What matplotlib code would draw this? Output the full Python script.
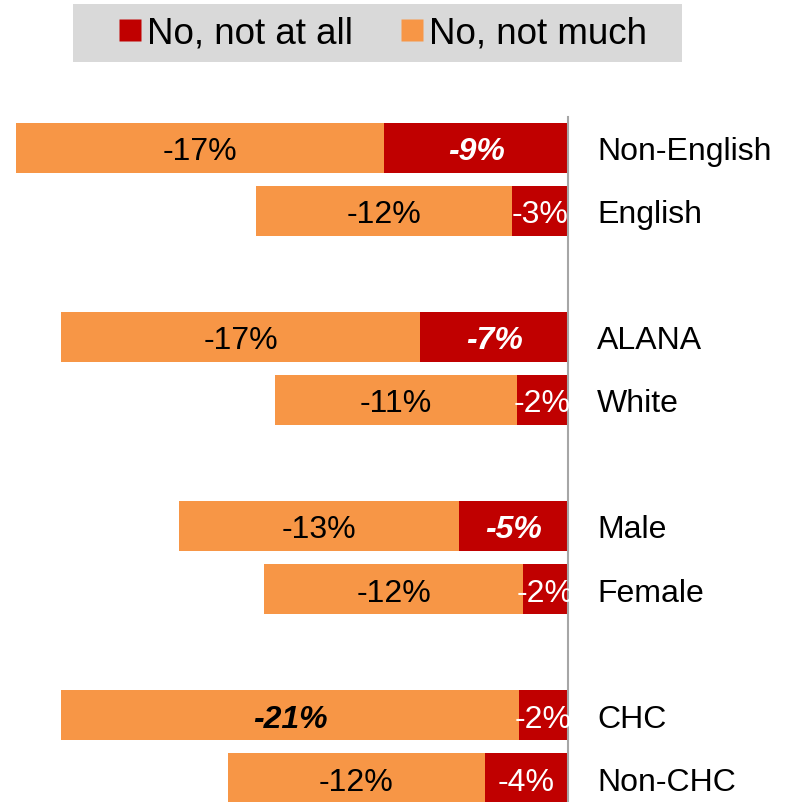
import matplotlib
matplotlib.use('Agg')
import matplotlib.pyplot as plt
from matplotlib.lines import Line2D
from matplotlib.patches import Rectangle

plt.rcParams['font.family'] = ['Liberation Sans', 'DejaVu Sans']

categories = ["Non-English", "English", "ALANA", "White", "Male", "Female", "CHC", "Non-CHC"]
not_at_all = [-8.6, -2.6, -6.9, -2.4, -5.1, -2.1, -2.3, -3.9]
not_much = [-17.2, -12.0, -16.8, -11.3, -13.1, -12.1, -21.4, -12.0]
emph_at_all = [True, False, True, False, True, False, False, False]
emph_much = [False, False, False, False, False, False, True, False]
series_names = ["No, not at all", "No, not much"]

positions = [0, 1, 3, 4, 6, 7, 9, 10]
RED = '#C00000'
ORANGE = '#F79646'

W, H = 788, 803
fig = plt.figure(figsize=(W / 100, H / 100), dpi=100)
ax = fig.add_axes([0, 0, 568 / W, (H - 118) / H])

ax.barh(positions, not_at_all, height=0.79, color=RED)
ax.barh(positions, not_much, left=not_at_all, height=0.79, color=ORANGE)

for p, a, m, ea, em in zip(positions, not_at_all, not_much, emph_at_all, emph_much):
    kw_a = dict(fontweight='bold', fontstyle='italic') if ea else {}
    kw_m = dict(fontweight='bold', fontstyle='italic') if em else {}
    ax.text(a / 2, p, f"{a:.0f}%", ha='center', va='center_baseline', color='white',
            fontsize=23, **kw_a)
    ax.text(a + m / 2, p, f"{m:.0f}%", ha='center', va='center_baseline', color='black',
            fontsize=23, **kw_m)

ax.set_xlim(-26.57, 0)
ax.set_ylim(10.38, -0.49)
ax.set_xticks([])
ax.yaxis.tick_right()
ax.set_yticks(positions)
ax.set_yticklabels(categories, fontsize=23)
ax.tick_params(axis='y', length=0, pad=21)
for s in ['left', 'top', 'bottom']:
    ax.spines[s].set_visible(False)
ax.spines['right'].set_color('#A6A6A6')
ax.spines['right'].set_linewidth(1.5)

# legend box
fig.patches.append(Rectangle((73 / W, 1 - 63 / H), (682 - 73) / W, 58 / H,
                             transform=fig.transFigure, facecolor='#D9D9D9',
                             edgecolor='none', zorder=0))
handles = [Line2D([], [], marker='s', linestyle='none', markersize=16,
                  markerfacecolor=RED, markeredgecolor='none'),
           Line2D([], [], marker='s', linestyle='none', markersize=16,
                  markerfacecolor=ORANGE, markeredgecolor='none')]
fig.legend(handles, series_names, loc='center', bbox_to_anchor=(383 / W, 1 - 34 / H),
           frameon=False, ncol=2, fontsize=26.5, handlelength=0.6,
           handletextpad=0.16, columnspacing=1.3, borderaxespad=0, borderpad=0)

fig.savefig('out.png', dpi=100)
